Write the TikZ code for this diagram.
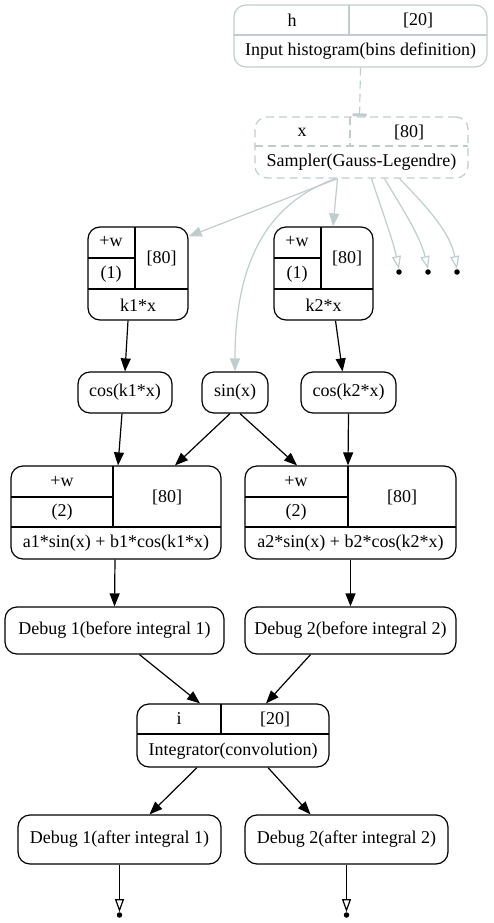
\documentclass[tikz,border=0pt]{standalone}
\usepackage{fontspec}
\setmainfont{Liberation Serif}
\usetikzlibrary{arrows.meta}
\definecolor{azure}{RGB}{193,205,205}
\begin{document}
\begin{tikzpicture}[x=1pt,y=-1pt,
  font=\fontsize{18}{21}\selectfont,
  box/.style={draw, line width=1.2pt, rounded corners=12pt, inner sep=0pt},
  greybox/.style={box, draw=azure},
  dashbox/.style={box, draw=azure, dash pattern=on 8pt off 5pt},
  div/.style={line width=1.2pt},
  gdiv/.style={line width=1.2pt, draw=azure},
  ddiv/.style={line width=1.2pt, draw=azure, dash pattern=on 8pt off 5pt},
  lbl/.style={inner sep=0pt},
  edge/.style={line width=1.2pt, -{Triangle[length=13pt,width=10pt]}},
  gedge/.style={line width=1.2pt, draw=azure, -{Triangle[length=13pt,width=10pt,fill=azure]}},
  oedge/.style={line width=1.2pt, draw=azure, -{Triangle[open,length=13pt,width=9pt]}},
  bedge/.style={line width=1.2pt, -{Triangle[open,length=13pt,width=9pt]}},
  dotnode/.style={circle, fill=black, inner sep=0pt, minimum size=5.5pt},
]
\useasboundingbox (0,0) rectangle (494,923);

% Input histogram
\node[greybox, minimum width=253pt, minimum height=62pt] (h) at (360.5,36) {};
\draw[gdiv] (234,35) -- (487,35);
\draw[gdiv] (349,5) -- (349,35);
\node[lbl] (hname) at (292,20) {h};
\node[lbl] (hsize) at (418,20) {[20]};
\node[lbl] (htitle) at (360.5,51) {Input histogram(bins definition)};

% Sampler
\node[dashbox, minimum width=213pt, minimum height=61pt] (s) at (361.5,147.5) {};
\draw[ddiv] (255,146) -- (468,146);
\draw[ddiv] (350,117) -- (350,146);
\node[lbl] (sname) at (302,132) {x};
\node[lbl] (ssize) at (409,132) {[80]};
\node[lbl] (stitle) at (361.5,162) {Sampler(Gauss-Legendre)};

% k1*x
\node[box, minimum width=100pt, minimum height=93pt] (k1) at (138,273.5) {};
\draw[div] (135,227) -- (135,289);
\draw[div] (88,258) -- (135,258);
\draw[div] (88,289) -- (188,289);
\node[lbl] (k1w) at (111,242) {+w};
\node[lbl] (k1n) at (111,274) {(1)};
\node[lbl] (k1s) at (161.5,258) {[80]};
\node[lbl] (k1t) at (138,305) {k1*x};

% k2*x
\node[box, minimum width=99pt, minimum height=93pt] (k2) at (323.5,273.5) {};
\draw[div] (321,227) -- (321,289);
\draw[div] (274,258) -- (321,258);
\draw[div] (274,289) -- (373,289);
\node[lbl] (k2w) at (297,242) {+w};
\node[lbl] (k2n) at (297,274) {(1)};
\node[lbl] (k2s) at (347,258) {[80]};
\node[lbl] (k2t) at (323.5,305) {k2*x};

% dots
\node[dotnode] (d1) at (399,272) {};
\node[dotnode] (d2) at (428,272) {};
\node[dotnode] (d3) at (457,272) {};

% cos / sin
\node[box, minimum width=94pt, minimum height=41pt] (c1) at (125,392.5) {cos(k1*x)};
\node[box, minimum width=66pt, minimum height=41pt] (sn) at (235,392.5) {sin(x)};
\node[box, minimum width=95pt, minimum height=41pt] (c2) at (348.5,392.5) {cos(k2*x)};

% formula 1
\node[box, minimum width=210pt, minimum height=93pt] (f1) at (116,512.5) {};
\draw[div] (113,466) -- (113,527);
\draw[div] (11,497) -- (113,497);
\draw[div] (11,527) -- (221,527);
\node[lbl] (f1w) at (62,481) {+w};
\node[lbl] (f1n) at (62,512) {(2)};
\node[lbl] (f1s) at (167,497) {[80]};
\node[lbl] (f1t) at (116,543) {a1*sin(x) + b1*cos(k1*x)};

% formula 2
\node[box, minimum width=211pt, minimum height=93pt] (f2) at (350.5,512.5) {};
\draw[div] (348,466) -- (348,527);
\draw[div] (245,497) -- (348,497);
\draw[div] (245,527) -- (456,527);
\node[lbl] (f2w) at (296,481) {+w};
\node[lbl] (f2n) at (296,512) {(2)};
\node[lbl] (f2s) at (402,497) {[80]};
\node[lbl] (f2t) at (350.5,543) {a2*sin(x) + b2*cos(k2*x)};

% debug before
\node[box, minimum width=219pt, minimum height=47pt] (db1) at (114.5,630.5) {Debug 1(before integral 1)};
\node[box, minimum width=211pt, minimum height=47pt] (db2) at (350.5,630.5) {Debug 2(before integral 2)};

% integrator
\node[box, minimum width=192pt, minimum height=63pt] (ig) at (233,735.5) {};
\draw[div] (137,734) -- (329,734);
\draw[div] (221,704) -- (221,734);
\node[lbl] (igname) at (179,719) {i};
\node[lbl] (igsize) at (275,719) {[20]};
\node[lbl] (igtitle) at (233,751) {Integrator(convolution)};

% debug after
\node[box, minimum width=203pt, minimum height=49pt] (da1) at (119.5,839.5) {Debug 1(after integral 1)};
\node[box, minimum width=203pt, minimum height=49pt] (da2) at (346.5,839.5) {Debug 2(after integral 2)};
\node[dotnode] (o1) at (119.5,915) {};
\node[dotnode] (o2) at (346.5,915) {};

% edges: top
\draw[line width=1.2pt, draw=azure, dash pattern=on 8pt off 5pt, -{Rectangle[length=3pt,width=14pt]}] (h.south) -- ([xshift=-2pt]s.north);
\draw[gedge] ([xshift=-24pt]s.south) -- ([yshift=-10pt]k1.north east);
\draw[gedge] ([xshift=-24pt]s.south) -- ([xshift=9.5pt]k2.north);
\draw[gedge] ([xshift=-26pt]s.south) .. controls (262,205) and (235,270) .. (sn.north);
\draw[oedge] ([xshift=10pt]s.south) .. controls (380,205) and (393,240) .. (d1.north);
\draw[oedge] ([xshift=23pt]s.south) .. controls (400,205) and (420,235) .. (d2.north);
\draw[oedge] ([xshift=38pt]s.south) .. controls (420,200) and (450,230) .. (d3.north);

% edges: middle
\draw[edge] ([xshift=-10pt]k1.south) -- (c1.north);
\draw[edge] ([xshift=12pt]k2.south) -- ([xshift=-6pt]c2.north);
\draw[edge] ([xshift=-3pt]c1.south) -- ([xshift=2pt]f1.north);
\draw[edge] ([xshift=-5pt]sn.south) -- ([xshift=59pt]f1.north);
\draw[edge] ([xshift=5pt]sn.south) -- ([xshift=-53.5pt]f2.north);
\draw[edge] (c2.south) -- ([xshift=-2.5pt]f2.north);
\draw[edge] ([xshift=-1pt]f1.south) -- (db1.north);
\draw[edge] (f2.south) -- (db2.north);
\draw[edge] ([xshift=25pt]db1.south) -- ([xshift=-33pt]ig.north);
\draw[edge] ([xshift=-40pt]db2.south) -- ([xshift=33pt]ig.north);
\draw[edge] ([xshift=-36pt]ig.south) -- ([xshift=30pt]da1.north);
\draw[edge] ([xshift=35pt]ig.south) -- ([xshift=-36pt]da2.north);
\draw[bedge] (da1.south) -- (o1.north);
\draw[bedge] (da2.south) -- (o2.north);
\end{tikzpicture}
\end{document}
